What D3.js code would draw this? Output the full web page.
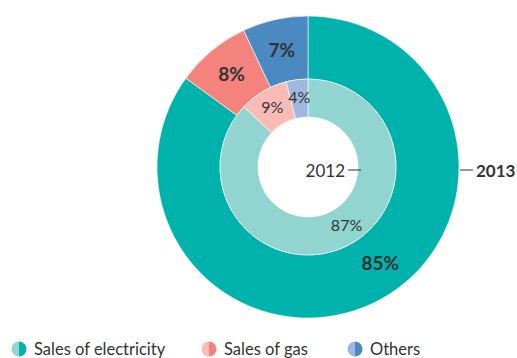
<!DOCTYPE html>
<html>
<head>
<meta charset="utf-8">
<script src="https://cdn.jsdelivr.net/npm/d3@7"></script>
<style>
  body { margin: 0; background: #fff; }
  text { font-family: Lato, "Open Sans", sans-serif; fill: #333; }
</style>
</head>
<body>
<svg id="chart" width="517" height="358"></svg>
<script>
/* Data */
var categories = ["Sales of electricity", "Sales of gas", "Others"];
var values2013 = [85, 8, 7];
var values2012 = [87, 9, 4];
var darkColors = ["#00b2ac", "#f4837e", "#4a89c1"];
var lightColors = ["#92d4cf", "#f9bbb6", "#9fb9de"];

//label angle nudge (degrees) per slice, the big slice label sits a bit off its middle
var labelNudge = [-10, 0, 0];

var svg = d3.select("#chart");
var cx = 308, cy = 167;

var pie = d3.pie().sort(null).value(function (d) { return d; });

var outerArc = d3.arc().innerRadius(88).outerRadius(151);
var innerArc = d3.arc().innerRadius(50).outerRadius(88);

function labelPos(d, i, r) {
  var a = (d.startAngle + d.endAngle) / 2 + labelNudge[i] * Math.PI / 180;
  return [r * Math.sin(a), -r * Math.cos(a)];
}

var g = svg.append("g").attr("transform", "translate(" + cx + "," + cy + ")");

//Outer ring (2013)
g.append("g").selectAll("path")
  .data(pie(values2013))
  .enter().append("path")
  .attr("d", outerArc)
  .attr("fill", function (d, i) { return darkColors[i]; })
  .attr("stroke", "#fff")
  .attr("stroke-width", 0.6);

//Inner ring (2012)
g.append("g").selectAll("path")
  .data(pie(values2012))
  .enter().append("path")
  .attr("d", innerArc)
  .attr("fill", function (d, i) { return lightColors[i]; })
  .attr("stroke", "#fff")
  .attr("stroke-width", 0.6);

//Labels
g.append("g").selectAll("text")
  .data(pie(values2013))
  .enter().append("text")
  .attr("transform", function (d, i) { return "translate(" + labelPos(d, i, 120) + ")"; })
  .attr("text-anchor", "middle")
  .attr("dy", "0.36em")
  .style("font-size", "19px")
  .style("font-weight", "bold")
  .text(function (d) { return d.data + "%"; });

g.append("g").selectAll("text")
  .data(pie(values2012))
  .enter().append("text")
  .attr("transform", function (d, i) { return "translate(" + labelPos(d, i, 70) + ")"; })
  .attr("text-anchor", "middle")
  .attr("dy", "0.36em")
  .style("font-size", "16px")
  .text(function (d) { return d.data + "%"; });

//Year markers
g.append("line").attr("x1", 40).attr("x2", 53).attr("y1", 3).attr("y2", 3)
  .attr("stroke", "#333").attr("stroke-width", 1);
g.append("text").attr("x", 37).attr("y", 4).attr("dy", "0.36em")
  .attr("text-anchor", "end").style("font-size", "17px").text("2012");

g.append("line").attr("x1", 152).attr("x2", 165).attr("y1", 3).attr("y2", 3)
  .attr("stroke", "#333").attr("stroke-width", 1);
g.append("text").attr("x", 168).attr("y", 4).attr("dy", "0.36em")
  .style("font-size", "17px").style("font-weight", "bold").text("2013");

//Legend
var legendX = [19, 209, 355];
var legend = svg.append("g").selectAll("g")
  .data(categories)
  .enter().append("g")
  .attr("transform", function (d, i) { return "translate(" + legendX[i] + ",349)"; });

legend.append("path")
  .attr("d", d3.arc().innerRadius(0).outerRadius(7.5).startAngle(Math.PI).endAngle(2 * Math.PI))
  .attr("fill", function (d, i) { return lightColors[i]; });
legend.append("path")
  .attr("d", d3.arc().innerRadius(0).outerRadius(7.5).startAngle(0).endAngle(Math.PI))
  .attr("fill", function (d, i) { return darkColors[i]; });
legend.append("text")
  .attr("x", 15)
  .attr("dy", "0.36em")
  .style("font-size", "16.5px")
  .text(function (d) { return d; });
</script>
</body>
</html>
